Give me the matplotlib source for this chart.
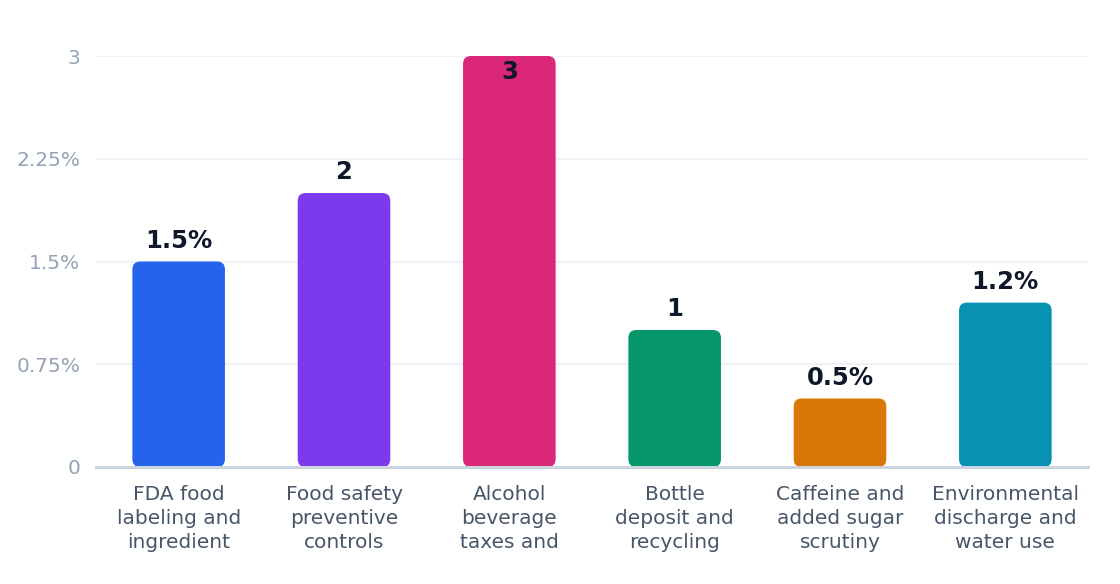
import matplotlib
matplotlib.use("Agg")
import matplotlib.pyplot as plt
from matplotlib.patches import FancyBboxPatch

categories = ["FDA food\nlabeling and\ningredient", "Food safety\npreventive\ncontrols",
              "Alcohol\nbeverage\ntaxes and", "Bottle\ndeposit and\nrecycling",
              "Caffeine and\nadded sugar\nscrutiny", "Environmental\ndischarge and\nwater use"]
values = [1.5, 2.0, 3.0, 1.0, 0.5, 1.2]
value_labels = ["1.5%", "2", "3", "1", "0.5%", "1.2%"]
colors = ["#2563eb", "#7c3aed", "#db2777", "#059669", "#d97706", "#0891b2"]
yticks = [0, 0.75, 1.5, 2.25, 3]
ytick_labels = ["0", "0.75%", "1.5%", "2.25%", "3"]

fig = plt.figure(figsize=(11.2, 5.84), dpi=100)
ax = fig.add_axes([96/1120, 117/584, 992/1120, 411/584])
x = list(range(len(categories)))
bars = ax.bar(x, values, width=0.56, color="none", edgecolor="none")
ax.set_xlim(-0.5, len(categories) - 0.5)
ax.set_ylim(0, 3)

for b, c in zip(bars, colors):
    p = FancyBboxPatch((b.get_x(), b.get_y()), b.get_width(), b.get_height(),
                       boxstyle="round,pad=0,rounding_size=0.048",
                       mutation_aspect=1.2, facecolor=c, edgecolor="none", zorder=3)
    ax.add_patch(p)

vmax = max(values)
for xi, v, lab in zip(x, values, value_labels):
    off = -11.5 if v >= vmax else 15
    ax.annotate(lab, (xi, v), xytext=(0, off), textcoords="offset points",
                ha="center", va="center", fontsize=17.5, fontweight="bold",
                color="#0f172a", zorder=4)

ax.set_yticks(yticks)
ax.set_yticklabels(ytick_labels)
ax.set_xticks(x)
ax.set_xticklabels(categories, linespacing=1.33)
ax.tick_params(axis="y", length=0, pad=11.5, labelsize=14.5, labelcolor="#94a3b8")
ax.tick_params(axis="x", length=0, pad=13, labelsize=14.5, labelcolor="#475569")
ax.yaxis.grid(True, color="#eef2f6", linewidth=1.5, zorder=0)
ax.set_axisbelow(True)
for s in ["top", "right", "left"]:
    ax.spines[s].set_visible(False)
ax.spines["bottom"].set_color("#cbd5e1")
ax.spines["bottom"].set_linewidth(2.2)
ax.spines["bottom"].set_zorder(5)

fig.savefig("out.png", dpi=100)
